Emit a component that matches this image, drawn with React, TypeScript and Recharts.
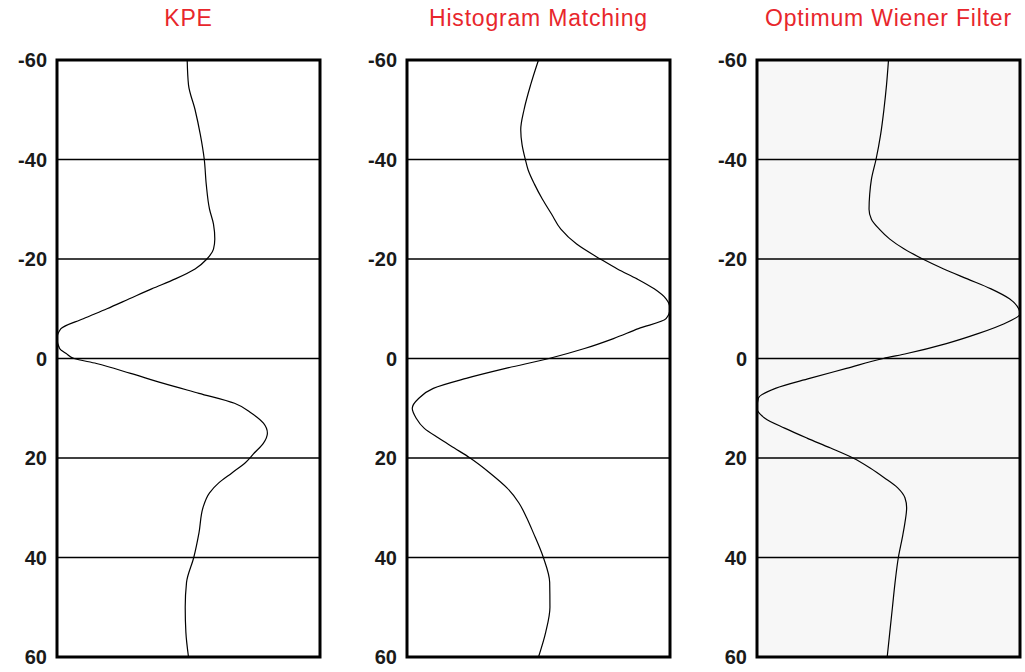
import { LineChart, Line, XAxis, YAxis, CartesianGrid, ReferenceArea } from 'recharts';

// depth (vertical axis) and amplitude readings for each panel
const yTicks = [-60, -40, -20, 0, 20, 40, 60];

const kpeDepth = [-60, -55, -50, -45, -40, -35, -30, -27, -24, -22, -20, -18, -16, -14, -12, -10, -8, -6, -4, -2, -1, 0, 1, 3, 5, 7, 9, 11, 13, 15, 17, 19, 21, 23, 25, 27, 30, 35, 40, 45, 50, 55, 60];
const kpeAmp = [-0.01, 0.0, 0.05, 0.09, 0.12, 0.135, 0.16, 0.19, 0.2, 0.19, 0.14, 0.05, -0.1, -0.28, -0.45, -0.62, -0.8, -0.97, -1.0, -0.98, -0.93, -0.87, -0.7, -0.44, -0.19, 0.08, 0.35, 0.48, 0.57, 0.6, 0.57, 0.5, 0.43, 0.33, 0.23, 0.16, 0.11, 0.08, 0.04, -0.015, -0.025, -0.02, 0.0];

const hmDepth = [-60, -55, -50, -46, -43, -40, -38, -35, -32, -29, -26, -23, -20, -18, -16, -14, -12, -10, -8, -6, -4, -2, 0, 2, 4, 6, 8, 10, 12, 14, 16, 18, 20, 23, 26, 29, 32, 35, 40, 45, 50, 55, 60];
const hmAmp = [0.0, -0.06, -0.11, -0.135, -0.125, -0.1, -0.08, -0.03, 0.03, 0.1, 0.17, 0.29, 0.47, 0.6, 0.75, 0.88, 0.97, 1.0, 0.97, 0.76, 0.57, 0.35, 0.08, -0.25, -0.55, -0.8, -0.91, -0.96, -0.93, -0.87, -0.76, -0.64, -0.52, -0.37, -0.24, -0.15, -0.09, -0.04, 0.037, 0.085, 0.087, 0.055, 0.0];

const owfDepth = [-60, -55, -50, -45, -40, -36, -33, -30, -28, -26, -24, -22, -20, -18, -16, -14, -12, -10, -9, -7, -5, -3, -1, 0, 2, 4, 6, 8, 10, 12, 14, 16, 18, 20, 22, 24, 26, 28, 30, 33, 36, 40, 45, 50, 55, 60];
const owfAmp = [0.0, -0.015, -0.035, -0.06, -0.095, -0.13, -0.143, -0.148, -0.13, -0.07, 0.01, 0.12, 0.26, 0.42, 0.6, 0.78, 0.92, 0.99, 1.0, 0.88, 0.68, 0.44, 0.14, -0.04, -0.32, -0.6, -0.86, -0.99, -1.0, -0.94, -0.79, -0.62, -0.44, -0.27, -0.14, -0.03, 0.07, 0.125, 0.138, 0.125, 0.105, 0.075, 0.05, 0.03, 0.01, -0.01];

interface PanelProps {
  title: string;
  depth: number[];
  amp: number[];
  left: number;
  width: number;
  right: number;
  bg: string;
}

const Panel = ({ title, depth, amp, left, width, right, bg }: PanelProps) => {
  const data = depth.map((d, i) => ({ depth: d, amp: amp[i] }));
  return (
    <div style={{ position: 'absolute', left, top: 0, width, height: 672 }}>
      <div
        style={{
          position: 'absolute',
          left: 57,
          right,
          top: 7,
          textAlign: 'center',
          color: '#e8262c',
          fontFamily: '"Liberation Sans", Arial, sans-serif',
          fontSize: 23,
          lineHeight: '23px',
          letterSpacing: 0.8,
          whiteSpace: 'nowrap',
        }}
      >
        {title}
      </div>
      <LineChart
        layout="vertical"
        width={width}
        height={672}
        data={data}
        margin={{ top: 60, right, bottom: 15, left: 0 }}
      >
        <CartesianGrid vertical={false} stroke="#000" strokeWidth={1.5} fill={bg} fillOpacity={1} />
        <XAxis type="number" dataKey="amp" domain={[-1, 1]} hide allowDataOverflow />
        <YAxis
          type="number"
          dataKey="depth"
          domain={[-60, 60]}
          ticks={yTicks}
          interval={0}
          width={57}
          axisLine={false}
          tickLine={false}
          tickMargin={4}
          tick={{ fill: '#1a1a1a', fontSize: 20, fontWeight: 'bold', fontFamily: '"Liberation Sans", Arial, sans-serif' }}
        />
        <ReferenceArea x1={-1} x2={1} y1={-60} y2={60} fill="none" stroke="#000" strokeWidth={3} ifOverflow="visible" />
        <Line type="monotone" dataKey="amp" stroke="#000" strokeWidth={1.2} dot={false} isAnimationActive={false} />
      </LineChart>
    </div>
  );
};

export default function App() {
  return (
    <div style={{ position: 'absolute', left: 0, top: 0, width: 1025, height: 672, background: '#fff' }}>
      <Panel title="KPE" depth={kpeDepth} amp={kpeAmp} left={0} width={330} right={10} bg="#ffffff" />
      <Panel title="Histogram Matching" depth={hmDepth} amp={hmAmp} left={350} width={330} right={10} bg="#ffffff" />
      <Panel title="Optimum Wiener Filter" depth={owfDepth} amp={owfAmp} left={700} width={325} right={5} bg="#f7f7f7" />
    </div>
  );
}
